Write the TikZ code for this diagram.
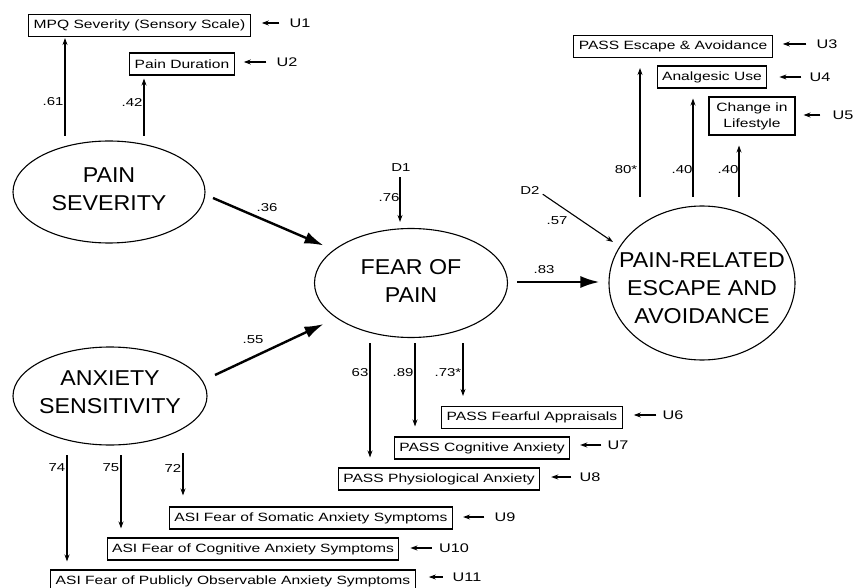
\documentclass[tikz,border=0pt]{standalone}
\usepackage{fontspec}
\setmainfont{Liberation Sans}
\newfontfamily\boxfont[FakeStretch=1.3]{Liberation Sans}
\newfontfamily\bigfont[FakeStretch=1.08]{Liberation Sans}
\usetikzlibrary{shapes.geometric,arrows.meta,calc}
\begin{document}
\begin{tikzpicture}[x=1pt,y=-1pt,
  latent/.style={draw,ellipse,line width=1.1pt,inner sep=0pt},
  lattext/.style={align=center,inner sep=0pt,font=\bigfont\fontsize{21.5}{28}\selectfont},
  obs/.style={draw,line width=1.1pt,inner xsep=5pt,inner ysep=0pt,minimum height=22pt,align=center,font=\boxfont\fontsize{12}{15}\selectfont},
  meas/.style={line width=1.1pt,-{Stealth[length=7pt,width=5pt]}},
  gap/.style={shorten >=10pt},
  struct/.style={line width=2.4pt,-{Latex[length=19pt,width=12pt]}},
  coef/.style={font=\boxfont\fontsize{11.5}{13}\selectfont,inner sep=0pt},
  ulab/.style={font=\boxfont\fontsize{12.5}{14}\selectfont,inner sep=0pt},
  uarr/.style={line width=1.1pt,-{Stealth[length=7pt,width=5pt]}}]

\useasboundingbox[fill=white] (0,0) rectangle (854,588);

% latent variables
\node[latent,minimum width=192pt,minimum height=102pt] (ps) at (109,192) {};
\node[lattext] (pst) at (109,189) {PAIN\\SEVERITY};
\node[latent,minimum width=194pt,minimum height=98pt] (as) at (110,396) {};
\node[lattext] (ast) at (110,392) {ANXIETY\\SENSITIVITY};
\node[latent,minimum width=193pt,minimum height=109pt] (fp) at (411,283) {};
\node[lattext] (fpt) at (411,281) {FEAR OF\\PAIN};
\node[latent,minimum width=186pt,minimum height=154pt] (per) at (702,283) {};
\node[lattext] (pert) at (702,288) {PAIN-RELATED\\ESCAPE AND\\AVOIDANCE};

% observed variables
\node[obs] (mpq) at (139.5,25.5) {MPQ Severity (Sensory Scale)};
\node[obs] (dur) at (182,64) {Pain Duration};
\node[obs] (esc) at (673,46.5) {PASS Escape \& Avoidance};
\node[obs] (ana) at (712,77) {Analgesic Use};
\node[obs,minimum width=86pt,minimum height=38pt,font=\boxfont\fontsize{12}{16}\selectfont] (life) at (752,116) {Change in\\Lifestyle};
\node[obs] (fa) at (532,417.5) {PASS Fearful Appraisals};
\node[obs] (ca) at (482,448) {PASS Cognitive Anxiety};
\node[obs] (pa) at (439,479) {PASS Physiological Anxiety};
\node[obs] (som) at (311,518) {ASI Fear of Somatic Anxiety Symptoms};
\node[obs] (cog) at (253,549) {ASI Fear of Cognitive Anxiety Symptoms};
\node[obs] (pub) at (233,581) {ASI Fear of Publicly Observable Anxiety Symptoms};

% disturbances
\node[coef] (d1) at (401,168) {D1};
\node[coef] (d2) at (530,190) {D2};
\coordinate (d2e) at (613,242);
\draw[meas,shorten <=5pt,shorten >=6pt] (d1.south -| 400,0) -- (400,0 |- fp.north);
\draw[meas] ($(d2.south east)+(3,0)$) -- (d2e);
\node[coef] (l76) at (389,198) {.76};
\node[coef] (l57) at (557,221) {.57};

% structural paths
\coordinate (s36) at (213,198);
\coordinate (s55) at (215,375);
\coordinate (s83) at (517,282);
\draw[struct,shorten >=11pt] (s36) -- (fp);
\draw[struct,shorten >=14pt] (s55) -- (fp);
\draw[struct,shorten >=9pt] (s83) -- (s83 -| per.west);
\node[coef] (l36) at (267,208) {.36};
\node[coef] (l55) at (253,340) {.55};
\node[coef] (l83) at (544,270) {.83};

% pain severity indicators
\coordinate (a61) at (65,136);
\coordinate (a42) at (144,136);
\draw[meas,shorten >=1pt] (a61) -- (a61 |- mpq.south);
\draw[meas,shorten >=3pt] (a42) -- (a42 |- dur.south);
\node[coef] (l61) at (53,102) {.61};
\node[coef] (l42) at (132,102) {.42};

% escape/avoidance indicators
\coordinate (a80) at (640,197);
\coordinate (a40a) at (693,197);
\coordinate (a40b) at (739,197);
\draw[meas,gap] (a80) -- (a80 |- esc.south);
\draw[meas,gap] (a40a) -- (a40a |- ana.south);
\draw[meas,gap] (a40b) -- (a40b |- life.south);
\node[coef] (l80) at (626,170) {80*};
\node[coef] (l40a) at (682,170) {.40};
\node[coef] (l40b) at (728,170) {.40};

% fear of pain indicators
\coordinate (a63) at (370,343);
\coordinate (a89) at (415,343);
\coordinate (a73) at (463,343);
\draw[meas,gap] (a63) -- (a63 |- pa.north);
\draw[meas,gap] (a89) -- (a89 |- ca.north);
\draw[meas,gap] (a73) -- (a73 |- fa.north);
\node[coef] (l63) at (360,373) {63};
\node[coef] (l89) at (403,373) {.89};
\node[coef] (l73) at (448,373) {.73*};

% anxiety sensitivity indicators
\coordinate (a74) at (67,455);
\coordinate (a75) at (121,455);
\coordinate (a72) at (183,453);
\draw[meas,shorten >=8pt] (a74) -- (a74 |- pub.north);
\draw[meas,shorten >=9pt] (a75) -- (a75 |- cog.north);
\draw[meas,shorten >=11pt] (a72) -- (a72 |- som.north);
\node[coef] (l74) at (57,468) {74};
\node[coef] (l75) at (111,468) {75};
\node[coef] (l72) at (173,468) {72};

% unique terms
\node[ulab] (u1) at (300,23) {U1};
\node[ulab] (u2) at (287,62) {U2};
\node[ulab] (u3) at (827,44) {U3};
\node[ulab] (u4) at (820,77) {U4};
\node[ulab] (u5) at (843,115) {U5};
\node[ulab] (u6) at (673,415) {U6};
\node[ulab] (u7) at (618,445) {U7};
\node[ulab] (u8) at (590,477) {U8};
\node[ulab] (u9) at (505,517) {U9};
\node[ulab] (u10) at (454,548) {U10};
\node[ulab] (u11) at (467,577) {U11};
\draw[uarr,shorten <=10pt,shorten >=11pt] (u1.west) -- (mpq.east |- u1.west);
\draw[uarr,shorten <=10pt,shorten >=9pt] (u2.west) -- (dur.east |- u2.west);
\draw[uarr,shorten <=10pt,shorten >=10pt] (u3.west) -- (esc.east |- u3.west);
\draw[uarr,shorten <=8pt,shorten >=12pt] (u4.west) -- (ana.east |- u4.west);
\draw[uarr,shorten <=12pt,shorten >=8pt] (u5.west) -- (life.east |- u5.west);
\draw[uarr,shorten <=6pt,shorten >=11pt] (u6.west) -- (fa.east |- u6.west);
\draw[uarr,shorten <=6pt,shorten >=10pt] (u7.west) -- (ca.east |- u7.west);
\draw[uarr,shorten <=8pt,shorten >=11pt] (u8.west) -- (pa.east |- u8.west);
\draw[uarr,shorten <=10pt,shorten >=10pt] (u9.west) -- (som.east |- u9.west);
\draw[uarr,shorten <=7pt,shorten >=11pt] (u10.west) -- (cog.east |- u10.west);
\draw[uarr,shorten <=10pt,shorten >=13pt] (u11.west) -- (pub.east |- u11.west);
\end{tikzpicture}
\end{document}
